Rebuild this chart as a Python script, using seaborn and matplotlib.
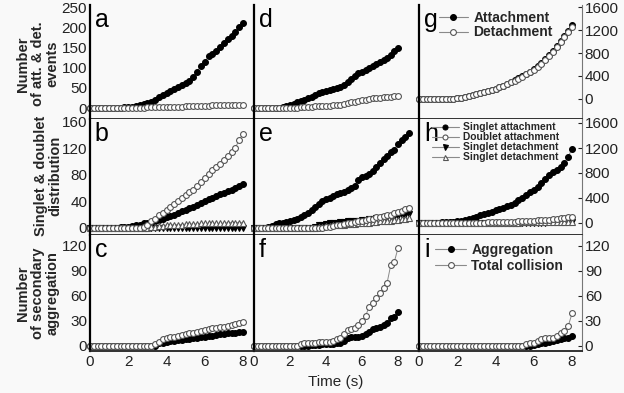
import matplotlib
matplotlib.use("Agg")
import numpy as np
import matplotlib.pyplot as plt
from matplotlib.lines import Line2D
import seaborn as sns


# Time axes (s)
t = np.round(np.arange(0, 8.01, 0.2), 1)
t_e = np.round(np.arange(0, 8.61, 0.2), 1)

# a: attachment / detachment events
a_att = [0, 0, 0, 0, 0, 0, 1, 1, 1, 2, 2, 3, 5, 7, 9, 12, 16, 21, 27, 33,
         38, 43, 48, 52, 57, 62, 68, 76, 90, 105, 115, 128, 135, 142, 150, 160, 170, 178, 188, 200, 210]
a_det = [0, 0, 0, 0, 0, 0, 0, 0, 0, 0, 1, 1, 1, 1, 1, 2, 2, 2, 2, 2,
         3, 3, 3, 3, 3, 4, 4, 4, 5, 5, 6, 6, 7, 7, 7, 7, 8, 8, 8, 8, 8]

# d
d_att = [0, 0, 0, 0, 0, 0, 1, 1, 2, 5, 7, 10, 14, 18, 21, 24, 28, 33, 37, 40,
         42, 45, 48, 50, 52, 58, 65, 73, 80, 86, 90, 95, 99, 103, 110, 115, 120, 124, 132, 142, 148]
d_det = [0, 0, 0, 0, 0, 0, 0, 0, 0, 0, 0, 1, 1, 2, 2, 3, 3, 4, 4, 5,
         5, 6, 7, 7, 8, 10, 12, 14, 16, 18, 20, 21, 22, 24, 25, 26, 27, 28, 28, 29, 30]

# g
g_att = [0, 0, 0, 0, 0, 0, 0, 0, 0, 5, 12, 25, 40, 55, 70, 86, 101, 117, 137, 159,
         182, 208, 233, 263, 294, 325, 360, 396, 437, 478, 520, 572, 628, 694, 765, 840, 918, 1008, 1100, 1190, 1290]
g_det = [0, 0, 0, 0, 0, 0, 0, 0, 0, 5, 12, 25, 40, 55, 70, 85, 100, 115, 135, 157,
         180, 205, 230, 260, 290, 320, 355, 390, 430, 470, 510, 560, 615, 680, 750, 825, 900, 990, 1080, 1170, 1260]

# b: singlet & doublet distribution
b_s_att = [0, 0, 0, 0, 0, 0, 0, 0, 1, 1, 2, 3, 4, 5, 7, 8, 9, 10, 12, 14,
           16, 18, 20, 22, 25, 27, 30, 32, 35, 38, 40, 43, 45, 48, 51, 53, 56, 58, 61, 64, 67]
b_d_att = [0, 0, 0, 0, 0, 0, 0, 0, 0, 0, 0, 0, 0, 0, 1, 5, 10, 14, 19, 23,
           27, 31, 36, 40, 45, 50, 54, 58, 64, 70, 75, 82, 87, 92, 97, 102, 108, 114, 121, 133, 142]
b_s_det = [0] * 41
b_s_det2 = [0, 0, 0, 0, 0, 0, 0, 0, 0, 0, 0, 0, 0, 0, 0, 0, 1, 2, 3, 3,
            4, 4, 5, 5, 5, 6, 6, 6, 6, 7, 7, 7, 7, 7, 7, 7, 8, 8, 8, 8, 8]

# e
e_s_att = [0, 0, 0, 0, 1, 3, 6, 7, 8, 9, 10, 12, 14, 17, 20, 23, 27, 31, 36, 40,
           43, 46, 49, 51, 53, 55, 57, 60, 64, 72, 77, 79, 81, 86, 92, 98, 104, 109, 114, 118,
           127, 133, 138, 143]
e_d_att = [0, 0, 0, 0, 0, 0, 0, 0, 0, 0, 0, 0, 0, 0, 0, 0, 0, 0, 0, 0,
           1, 2, 3, 4, 5, 6, 7, 8, 9, 10, 11, 12, 13, 14, 16, 17, 18, 19, 20, 22,
           24, 26, 28, 30]
e_s_det = [0, 0, 0, 0, 0, 0, 0, 0, 0, 0, 0, 0, 0, 0, 0, 0, 0, 2, 4, 5,
           6, 7, 8, 8, 9, 9, 10, 10, 11, 11, 12, 12, 13, 14, 15, 15, 16, 16, 17, 17,
           18, 19, 20, 21]
e_s_det2 = [0, 0, 0, 0, 0, 0, 0, 0, 0, 0, 0, 0, 0, 0, 0, 0, 0, 0, 1, 2,
            3, 3, 4, 4, 5, 5, 6, 6, 6, 7, 7, 8, 8, 9, 9, 10, 10, 11, 11, 12,
            12, 13, 14, 15]

# h
h_s_att = [0, 0, 0, 0, 2, 5, 8, 12, 15, 20, 28, 38, 50, 65, 82, 100, 120, 140, 160, 180,
           200, 222, 245, 270, 295, 325, 360, 395, 440, 490, 530, 580, 640, 700, 770, 820, 850, 900, 960, 1060, 1190]
h_d_att = [0, 0, 0, 0, 0, 0, 0, 0, 0, 0, 0, 0, 0, 0, 0, 2, 4, 6, 8, 10,
           12, 14, 16, 18, 20, 23, 26, 29, 32, 35, 38, 42, 46, 50, 55, 60, 66, 72, 80, 90, 100]
h_s_det = [0, 0, 0, 0, 0, 0, 0, 0, 0, 0, 0, 0, 0, 0, 0, 0, 0, 0, 0, 0,
           1, 1, 2, 2, 3, 3, 4, 4, 5, 5, 6, 6, 7, 7, 8, 8, 9, 9, 10, 10, 11]
h_s_det2 = [0, 0, 0, 0, 0, 0, 0, 0, 0, 0, 0, 0, 0, 0, 0, 0, 0, 0, 0, 0,
            1, 2, 3, 4, 5, 6, 7, 8, 9, 10, 11, 12, 13, 14, 15, 16, 17, 18, 19, 20, 21]

# c: secondary aggregation
c_agg = [0, 0, 0, 0, 0, 0, 0, 0, 0, 0, 0, 0, 0, 0, 0, 0, 0, 0, 3, 4,
         5, 6, 6, 7, 7, 8, 8, 9, 10, 11, 11, 12, 12, 13, 14, 14, 15, 16, 16, 17, 17]
c_col = [0, 0, 0, 0, 0, 0, 0, 0, 0, 0, 0, 0, 0, 0, 0, 0, 0, 2, 5, 8,
         10, 11, 11, 12, 13, 14, 15, 16, 17, 18, 19, 20, 21, 22, 23, 23, 24, 25, 26, 27, 29]

# f
f_agg = [0, 0, 0, 0, 0, 0, 0, 0, 0, 0, 0, 0, 0, 0, 0, 0, 1, 1, 1, 2,
         2, 2, 2, 3, 4, 6, 10, 11, 11, 11, 12, 14, 17, 20, 21, 23, 25, 28, 34, 35, 41]
f_col = [0, 0, 0, 0, 0, 0, 0, 0, 0, 0, 0, 0, 0, 2, 3, 3, 4, 4, 5, 5,
         5, 5, 6, 8, 10, 14, 19, 20, 21, 25, 30, 36, 47, 52, 57, 63, 70, 76, 97, 101, 117]

# i
i_agg = [0, 0, 0, 0, 0, 0, 0, 0, 0, 0, 0, 0, 0, 0, 0, 0, 0, 0, 0, 0,
         0, 0, 0, 0, 0, 0, 0, 0, 0, 0, 1, 2, 3, 4, 5, 6, 7, 8, 9, 10, 12]
i_col = [0, 0, 0, 0, 0, 0, 0, 0, 0, 0, 0, 0, 0, 0, 0, 0, 0, 0, 0, 0,
         0, 0, 0, 0, 0, 0, 0, 0, 2, 3, 4, 6, 8, 9, 10, 10, 12, 15, 18, 24, 39]


LINE = "#8a8a8a"
EDGE = "#555555"
BG = "#f9f9f9"
MS = 4.2
STYLES = {
    "fc": dict(marker="o", markerfacecolor="black", markeredgecolor="black"),
    "oc": dict(marker="o", markerfacecolor="white", markeredgecolor=EDGE),
    "fv": dict(marker="v", markerfacecolor="black", markeredgecolor="black"),
    "ot": dict(marker="^", markerfacecolor="white", markeredgecolor=EDGE),
}

sns.set_theme(style="white")
plt.rcParams["font.family"] = ["Liberation Sans", "DejaVu Sans"]

W, H = 624, 393
fig = plt.figure(figsize=(6.24, 3.93), dpi=100, facecolor=BG)

col_x = [(90, 164), (254, 165), (419, 163)]
row_y = [(5, 119), (119, 235), (235, 351)]
xlims = [8.575, 9.17, 8.52]
ylims_left = [(-27, 255), (-10.6, 164.5), (-6, 133)]
ylims_right = [(-348, 1635), (-192, 1664), (-6, 133)]
yticks_left = [range(0, 251, 50), range(0, 161, 40), range(0, 121, 30)]
yticks_right = [range(0, 1601, 400), range(0, 1601, 400), range(0, 121, 30)]

panels = [
    ["a", "d", "g"],
    ["b", "e", "h"],
    ["c", "f", "i"],
]
series = {
    "a": [(t, a_att, "fc"), (t, a_det, "oc")],
    "d": [(t, d_att, "fc"), (t, d_det, "oc")],
    "g": [(t, g_att, "fc"), (t, g_det, "oc")],
    "b": [(t, b_s_att, "fc"), (t, b_s_det, "fv"), (t, b_s_det2, "ot"), (t, b_d_att, "oc")],
    "e": [(t_e, e_s_att, "fc"), (t_e, e_s_det, "fv"), (t_e, e_s_det2, "ot"), (t_e, e_d_att, "oc")],
    "h": [(t, h_s_att, "fc"), (t, h_s_det, "fv"), (t, h_s_det2, "ot"), (t, h_d_att, "oc")],
    "c": [(t, c_agg, "fc"), (t, c_col, "oc")],
    "f": [(t, f_agg, "fc"), (t, f_col, "oc")],
    "i": [(t, i_agg, "fc"), (t, i_col, "oc")],
}

axes = {}
for r, (top, bot) in enumerate(row_y):
    for c, (x0, w) in enumerate(col_x):
        ax = fig.add_axes([x0 / W, 1 - bot / H, w / W, (bot - top) / H])
        ax.set_facecolor(BG)
        name = panels[r][c]
        axes[name] = ax

        for xs, ys, st in series[name]:
            sns.lineplot(x=xs, y=ys, ax=ax, color=LINE, lw=0.7, markersize=MS,
                         markeredgewidth=0.8, clip_on=False, errorbar=None,
                         sort=False, **STYLES[st])

        ax.set_xlim(0, xlims[c])
        ax.set_xticks([0, 2, 4, 6, 8])
        if c == 2:
            ax.set_ylim(*ylims_right[r])
            ax.set_yticks(list(yticks_right[r]))
        else:
            ax.set_ylim(*ylims_left[r])
            ax.set_yticks(list(yticks_left[r]))

        ax.tick_params(direction="in", length=3, width=0.8, labelsize=11,
                       colors="#222222", pad=2)
        ax.tick_params(axis="x", labelbottom=(r == 2), pad=3)
        if c == 0:
            ax.tick_params(axis="y", labelleft=True)
        elif c == 1:
            ax.tick_params(axis="y", labelleft=False)
        else:
            ax.tick_params(axis="y", left=False, right=True,
                           labelleft=False, labelright=True)

        ax.spines["top"].set_visible(False)
        ax.spines["left"].set_color("black")
        ax.spines["left"].set_linewidth(1.6)
        ax.spines["bottom"].set_color("#222222")
        ax.spines["bottom"].set_linewidth(1.3)
        if c == 2:
            ax.spines["right"].set_color("#777777")
            ax.spines["right"].set_linewidth(0.8)
        else:
            ax.spines["right"].set_visible(False)

        ax.set_xlabel("")
        ax.set_ylabel("")
        ax.text(0.03, 0.81, name, transform=ax.transAxes, fontsize=18,
                va="baseline", ha="left", color="black")


def handle(st, ms=MS):
    return Line2D([], [], color=LINE, lw=0.8, markersize=ms,
                  markeredgewidth=0.8, **STYLES[st])


leg_kw = dict(loc="upper left", frameon=False, borderpad=0, borderaxespad=0,
              handletextpad=0.4, prop=dict(weight="bold", size=10))

axes["g"].legend([handle("fc"), handle("oc")], ["Attachment", "Detachment"],
                 bbox_to_anchor=(0.12, 0.95), handlelength=2.1,
                 labelspacing=0.05, **leg_kw)

axes["i"].legend([handle("fc"), handle("oc")], ["Aggregation", "Total collision"],
                 bbox_to_anchor=(0.1, 0.93), handlelength=2.2,
                 labelspacing=0.15, **leg_kw)

leg_kw_h = dict(leg_kw)
leg_kw_h["prop"] = dict(weight="bold", size=7.4)
axes["h"].legend([handle("fc", 3.6), handle("oc", 3.6), handle("fv", 3.6), handle("ot", 3.6)],
                 ["Singlet attachment", "Doublet attachment",
                  "Singlet detachment", "Singlet detachment"],
                 bbox_to_anchor=(0.08, 0.97), handlelength=2.6,
                 labelspacing=0.0, **leg_kw_h)

# Row labels
lab_kw = dict(rotation=90, ha="center", va="center", fontsize=10.5,
              fontweight="bold", linespacing=1.05, multialignment="center")
fig.text(38 / W, 1 - 64 / H, "Number\nof att. & det.\nevents", **lab_kw)
fig.text(48 / W, 1 - 176 / H, "Singlet & doublet\ndistribution", **lab_kw)
fig.text(38 / W, 1 - 293 / H, "Number\nof secondary\naggregation", **lab_kw)

fig.text(336 / W, 1 - 382 / H, "Time (s)", ha="center", va="center", fontsize=11)

fig.savefig("out.png", dpi=100, facecolor=BG)
